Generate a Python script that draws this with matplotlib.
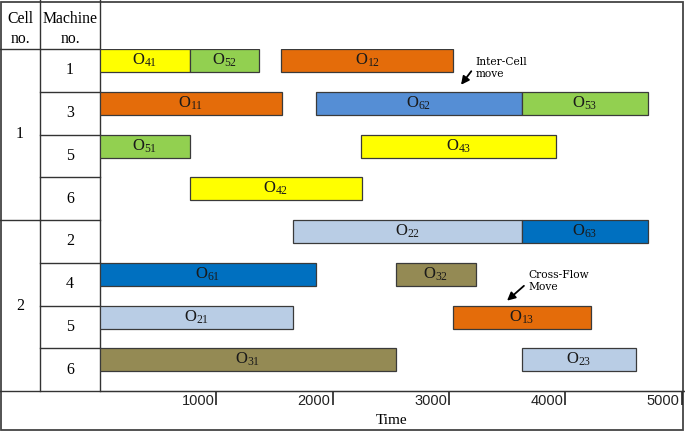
import matplotlib.pyplot as plt
from matplotlib.patches import Rectangle

plt.rcParams['font.family'] = 'Liberation Serif'
plt.rcParams['mathtext.fontset'] = 'custom'
plt.rcParams['mathtext.rm'] = 'Liberation Serif'
plt.rcParams['mathtext.it'] = 'Liberation Serif:italic'

# satirlar (hucre / makine)
cell_names = ["1", "2"]
machines_per_cell = [4, 4]
machine_names = ["1", "3", "5", "6", "2", "4", "5", "6"]

# operasyonlar: etiket, satir, baslangic, bitis, renk
op_names = ["41", "52", "12", "11", "62", "53", "51", "43", "42",
            "22", "63", "61", "32", "13", "21", "31", "23"]
op_rows = [0, 0, 0, 1, 1, 1, 2, 2, 3, 4, 4, 5, 5, 6, 6, 7, 7]
op_start = [0, 775, 1560, 0, 1857, 3627, 0, 2246, 775,
            1657, 3627, 0, 2542, 3033, 0, 0, 3627]
op_end = [775, 1367, 3033, 1562, 3627, 4711, 775, 3920, 2250,
          3627, 4711, 1855, 3232, 4218, 1657, 2545, 4610]
op_colors = ["#FFFF00", "#92D050", "#E46C0A", "#E46C0A", "#558ED5", "#92D050",
             "#92D050", "#FFFF00", "#FFFF00", "#B9CDE5", "#0070C0", "#0070C0",
             "#948A54", "#E46C0A", "#B9CDE5", "#948A54", "#B9CDE5"]

time_ticks = [1000, 2000, 3000, 4000, 5000]

W, H = 685, 432
LEFT, RIGHT = 100, 684
TOP, BOTTOM = 49, 391
ROW_H = (BOTTOM - TOP) / len(machine_names)
LINE_C = "#333333"

fig = plt.figure(figsize=(W / 100, H / 100), dpi=100)

# tablo kismi (piksel koordinatlari)
bg = fig.add_axes([0, 0, 1, 1])
bg.set_xlim(0, W)
bg.set_ylim(H, 0)
bg.axis("off")

bg.add_patch(Rectangle((1.5, 1.5), 682, 428, fill=False, ec="#444444", lw=1.3))
bg.plot([40, 40], [0, BOTTOM], color=LINE_C, lw=1)
bg.plot([LEFT, LEFT], [0, BOTTOM], color=LINE_C, lw=1)
bg.plot([0, LEFT], [TOP, TOP], color=LINE_C, lw=1)
bg.plot([0, RIGHT], [BOTTOM, BOTTOM], color=LINE_C, lw=1)

bg.text(20, 29, "Cell\nno.", ha="center", va="center", fontsize=11.3, linespacing=1.3)
bg.text(70, 29, "Machine\nno.", ha="center", va="center", fontsize=11.3, linespacing=1.3)

for i, m in enumerate(machine_names):
    y0 = TOP + i * ROW_H
    if i > 0:
        bg.plot([40, LEFT], [y0, y0], color=LINE_C, lw=1)
    bg.text(70, y0 + ROW_H / 2, m, ha="center", va="center", fontsize=11.5)

start = 0
for c, n in zip(cell_names, machines_per_cell):
    y0 = TOP + start * ROW_H
    if start > 0:
        bg.plot([0, 40], [y0, y0], color=LINE_C, lw=1)
    bg.text(20, y0 + n * ROW_H / 2, c, ha="center", va="center", fontsize=11.5)
    start += n

# gantt kismi
ax = fig.add_axes([LEFT / W, 1 - BOTTOM / H, (RIGHT - LEFT) / W, (BOTTOM - TOP) / H])
ax.patch.set_visible(False)
ax.set_xlim(0, 5020)
ax.set_ylim(len(machine_names), 0)

bar_h = 23 / ROW_H
ax.barh(op_rows, [e - s for s, e in zip(op_start, op_end)], left=op_start,
        height=bar_h, align="edge", color=op_colors, edgecolor="#3a3a3a", linewidth=0.9)
for name, r, s, e in zip(op_names, op_rows, op_start, op_end):
    ax.text((s + e) / 2, r + bar_h / 2, "O$_{%s}$" % name, ha="center", va="center",
            fontsize=12, color="#1a1a1a")

for side in ["top", "right", "left"]:
    ax.spines[side].set_visible(False)
ax.spines["bottom"].set_color(LINE_C)
ax.set_yticks([])
ax.set_xticks(time_ticks)
ax.tick_params(axis="x", direction="out", length=10, width=1.2, color="#222222",
               labelbottom=False)
for t in time_ticks:
    ax.annotate(str(t), xy=(t, 0), xycoords=("data", "axes fraction"),
                xytext=(-1.5, -7.3), textcoords="offset points", ha="right", va="center",
                fontsize=10.5, family="Liberation Sans", color="#222222")

ax.set_xlabel("Time", fontsize=11)
ax.xaxis.set_label_coords(0.5, -(421 - BOTTOM) / (BOTTOM - TOP))
ax.xaxis.label.set_va("center")

# oklar ve aciklamalar
ax.text(3225, (68 - TOP) / ROW_H, "Inter-Cell\nmove", ha="left", va="center",
        fontsize=7.7, family="DejaVu Serif", linespacing=1.25)
ax.annotate("", xy=(3089, (87 - TOP) / ROW_H), xytext=(3206, (69 - TOP) / ROW_H),
            arrowprops=dict(arrowstyle="-|>", color="black", lw=1.3, mutation_scale=12))
ax.text(3680, (280.5 - TOP) / ROW_H, "Cross-Flow\nMove", ha="left", va="center",
        fontsize=7.7, family="DejaVu Serif", linespacing=1.25)
ax.annotate("", xy=(3481, (302.5 - TOP) / ROW_H), xytext=(3662, (284 - TOP) / ROW_H),
            arrowprops=dict(arrowstyle="-|>", color="black", lw=1.3, mutation_scale=12))

fig.savefig("out.png", dpi=100)
